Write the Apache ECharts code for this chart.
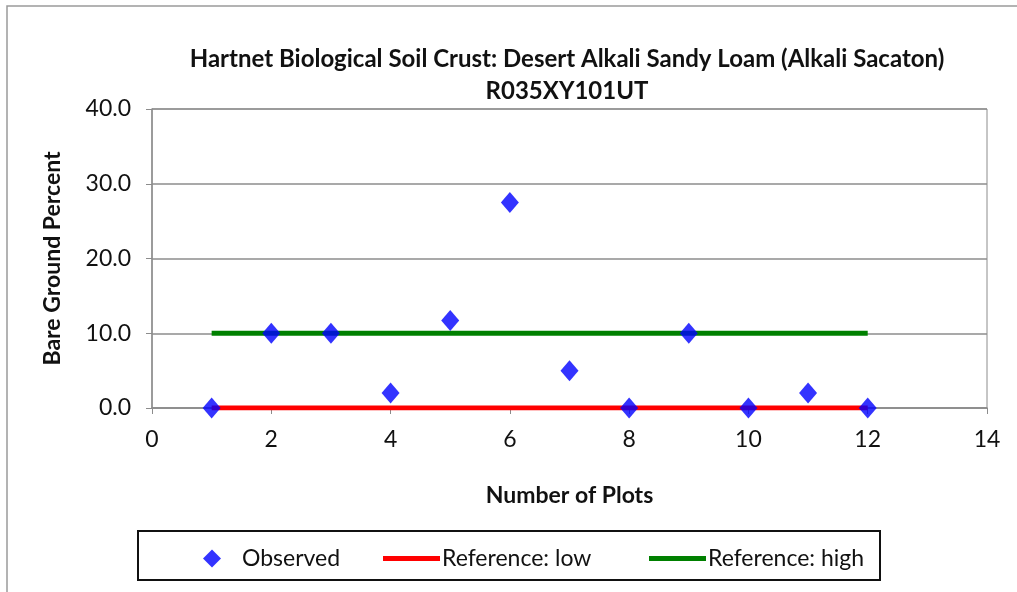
<!DOCTYPE html>
<html><head><meta charset="utf-8">
<script src="https://cdn.jsdelivr.net/npm/echarts@6/dist/echarts.min.js"></script>
<style>html,body{margin:0;padding:0;background:#fff}#c{width:1017px;height:592px}</style>
</head><body><div id="c"></div>
<script>
const titleLines = ["Hartnet Biological Soil Crust: Desert Alkali Sandy Loam (Alkali Sacaton)", "R035XY101UT"];
const xAxisName = "Number of Plots";
const yAxisName = "Bare Ground Percent";
const plotNumbers = [1, 2, 3, 4, 5, 6, 7, 8, 9, 10, 11, 12];
const observed = [0, 10, 10, 2, 11.7, 27.5, 5, 0, 10, 0, 2, 0];
const refX = [1, 12];
const refLow = [0, 0];
const refHigh = [10, 10];
const seriesNames = ["Observed", "Reference: low", "Reference: high"];

const FONT = "Lato, 'Open Sans', sans-serif";
const chart = echarts.init(document.getElementById('c'), null, {renderer: 'canvas'});
const pairs = (xs, ys) => xs.map((x, i) => [x, ys[i]]);
chart.setOption({
  animation: false,
  backgroundColor: '#fff',
  textStyle: {fontFamily: FONT},
  title: {
    text: titleLines.join('\n'), left: 562, top: 38, textAlign: 'center',
    textStyle: {fontFamily: FONT, fontSize: 24, fontWeight: 'bold', color: '#111', lineHeight: 32}
  },
  grid: {left: 152, top: 109, right: 30, bottom: 184, show: true, borderColor: '#8c8c8c', borderWidth: 1, backgroundColor: 'transparent'},
  xAxis: {
    type: 'value', min: 0, max: 14, interval: 2,
    name: xAxisName, nameLocation: 'middle', nameGap: 76,
    nameTextStyle: {fontFamily: FONT, fontSize: 23, fontWeight: 'bold', color: '#111'},
    axisLine: {lineStyle: {color: '#8c8c8c', width: 1.5}},
    axisTick: {show: true, inside: false, length: 6, lineStyle: {color: '#8c8c8c'}},
    axisLabel: {fontFamily: FONT, fontSize: 23, color: '#111', margin: 20},
    splitLine: {show: false}
  },
  yAxis: {
    type: 'value', min: 0, max: 40, interval: 10,
    name: yAxisName, nameLocation: 'middle', nameGap: 88, nameRotate: 90,
    nameTextStyle: {fontFamily: FONT, fontSize: 23, fontWeight: 'bold', color: '#111'},
    axisLine: {show: true, lineStyle: {color: '#8c8c8c', width: 1.5}},
    axisTick: {show: true, inside: false, length: 6, lineStyle: {color: '#8c8c8c'}},
    axisLabel: {fontFamily: FONT, fontSize: 23, color: '#111', margin: 21, formatter: v => v.toFixed(1)},
    splitLine: {show: true, lineStyle: {color: '#8c8c8c', width: 1.5}}
  },
  legend: [
    {data: [{name: seriesNames[0], icon: 'diamond'}], left: 198, top: 542, itemWidth: 18, itemHeight: 18, itemGap: 10,
     textStyle: {fontFamily: FONT, fontSize: 23, color: '#111', padding: [0, 0, 0, 16]}},
    {data: [{name: seriesNames[1], icon: 'rect'}], left: 378, top: 542, itemWidth: 57, itemHeight: 5,
     textStyle: {fontFamily: FONT, fontSize: 23, color: '#111', padding: [0, 0, 0, -3]}},
    {data: [{name: seriesNames[2], icon: 'rect'}], left: 644, top: 542, itemWidth: 57, itemHeight: 5,
     textStyle: {fontFamily: FONT, fontSize: 23, color: '#111', padding: [0, 0, 0, -3]}}
  ],
  graphic: [
    {type: 'rect', shape: {x: 7, y: 6, width: 1200, height: 800}, style: {fill: 'none', stroke: '#9a9a9a', lineWidth: 1.5}, silent: true},
    {type: 'rect', shape: {x: 138, y: 531, width: 742, height: 49}, style: {fill: 'none', stroke: '#111', lineWidth: 2}, silent: true}
  ],
  series: [
    {name: seriesNames[1], type: 'line', data: pairs(refX, refLow), symbol: 'none', showSymbol: false,
     lineStyle: {color: '#ff0000', width: 5}, itemStyle: {color: '#ff0000'}, z: 2},
    {name: seriesNames[2], type: 'line', data: pairs(refX, refHigh), symbol: 'none', showSymbol: false,
     lineStyle: {color: '#008000', width: 5}, itemStyle: {color: '#008000'}, z: 2},
    {name: seriesNames[0], type: 'scatter', data: pairs(plotNumbers, observed), symbol: 'diamond', symbolSize: [18, 21],
     itemStyle: {color: '#0000ff'}, z: 5}
  ]
});
</script></body></html>
